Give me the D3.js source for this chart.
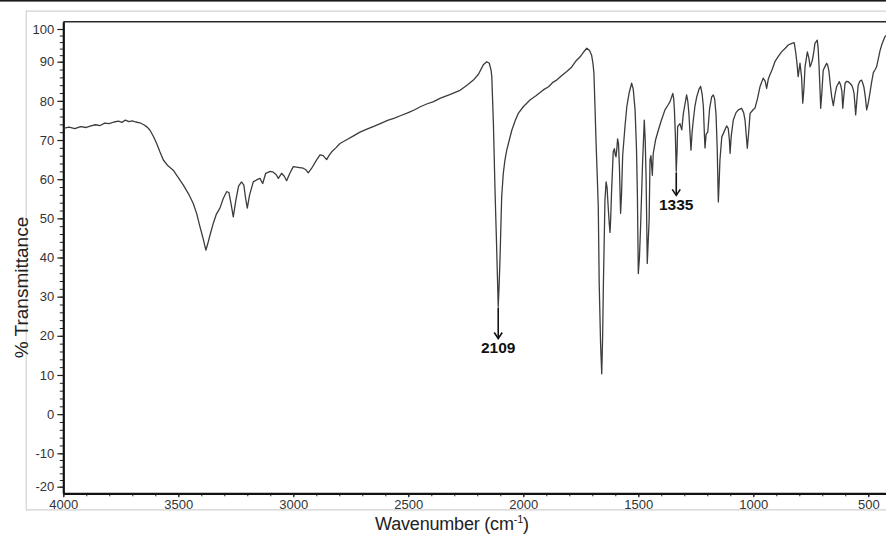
<!DOCTYPE html>
<html>
<head>
<meta charset="utf-8">
<script src="https://cdn.jsdelivr.net/npm/d3@7"></script>
<style>
  html, body { margin: 0; padding: 0; background: #fff; }
  svg { display: block; }
  text { font-family: Arial, "Liberation Sans", sans-serif; }
</style>
</head>
<body>
<svg id="chart" width="886" height="534"></svg>
<script>
// FTIR spectrum: wavenumber (cm-1) and % transmittance
const wavenumber = [
  4000, 3975, 3950, 3925, 3900, 3880, 3860, 3840, 3820, 3800, 3780, 3760, 3745, 3730, 3715, 3700,
  3685, 3667, 3650, 3635, 3623, 3608, 3594, 3580, 3565, 3545, 3522, 3500, 3478, 3455, 3435, 3420,
  3406, 3392, 3380, 3372, 3360, 3348, 3335, 3319, 3305, 3290, 3280, 3270, 3261, 3250, 3238, 3225,
  3215, 3207, 3200, 3190, 3174, 3160, 3145, 3133, 3120, 3100, 3087, 3075, 3065, 3051, 3040, 3029,
  3015, 3000, 2980, 2957, 2945, 2935, 2920, 2900, 2884, 2870, 2855, 2845, 2833, 2815, 2797, 2770,
  2740, 2710, 2680, 2650, 2622, 2590, 2560, 2535, 2500, 2470, 2448, 2420, 2390, 2360, 2320, 2275,
  2245, 2217, 2195, 2174, 2159, 2148, 2140, 2137, 2130, 2123, 2116, 2112, 2109, 2105, 2101, 2094,
  2087, 2080, 2072, 2060, 2050, 2035, 2022, 2000, 1971, 1945, 1913, 1890, 1870, 1855, 1830, 1811,
  1790, 1770, 1753, 1735, 1724, 1712, 1703, 1697, 1693, 1688, 1684, 1678, 1674, 1670, 1664, 1659,
  1655, 1652, 1648, 1645, 1640, 1636, 1630, 1626, 1623, 1620, 1616, 1609, 1604, 1600, 1597, 1593,
  1590, 1586, 1582, 1577, 1573, 1568, 1558, 1550, 1540, 1529, 1522, 1514, 1508, 1504, 1500, 1495,
  1490, 1481, 1476, 1474, 1470, 1466, 1461, 1457, 1453, 1449, 1445, 1439, 1435, 1425, 1413, 1400,
  1384, 1370, 1362, 1350, 1346, 1343, 1339, 1335, 1331, 1329, 1319, 1311, 1304, 1296, 1290, 1285,
  1280, 1271, 1266, 1261, 1254, 1246, 1236, 1229, 1222, 1217, 1213, 1210, 1205, 1198, 1190, 1181,
  1174, 1168, 1162, 1157, 1152, 1148, 1145, 1137, 1130, 1116, 1109, 1104, 1101, 1096, 1087, 1075,
  1065, 1051, 1042, 1036, 1031, 1026, 1020, 1014, 1000, 993, 982, 971, 957, 948, 942, 935,
  928, 918, 906, 890, 877, 860, 848, 835, 822, 815, 810, 805, 797, 790, 785, 780,
  775, 765, 758, 753, 748, 743, 737, 732, 722, 718, 714, 710, 707, 702, 696, 688,
  681, 676, 671, 665, 659, 652, 645, 638, 626, 620, 615, 611, 606, 601, 594, 587,
  580, 572, 566, 562, 558, 555, 550, 544, 537, 529, 524, 519, 513, 507, 500, 493,
  485, 478, 470, 464, 456, 449, 440, 428, 415, 405
];
const transmittance = [
  73.0, 73.3, 72.9, 73.4, 73.2, 73.6, 73.9, 73.7, 74.3, 74.2, 74.6, 74.8, 74.5, 75.1, 74.7, 74.9,
  74.6, 74.4, 73.9, 73.3, 72.5, 70.9, 69.1, 67.0, 64.9, 63.4, 62.3, 60.4, 58.5, 56.2, 53.8, 51.2,
  47.9, 44.8, 41.9, 43.5, 46.2, 48.7, 51.0, 52.6, 55.0, 56.8, 56.6, 53.5, 50.4, 54.5, 58.2, 59.3,
  58.5, 55.0, 52.6, 56.0, 59.3, 59.8, 60.2, 58.9, 61.5, 62.0, 61.8, 61.2, 60.2, 61.5, 60.8, 59.6,
  61.5, 63.2, 63.0, 62.8, 62.4, 61.6, 62.8, 64.8, 66.2, 66.0, 65.0, 66.0, 67.0, 68.0, 69.1, 70.0,
  71.0, 72.0, 72.8, 73.5, 74.2, 75.0, 75.6, 76.2, 77.0, 77.8, 78.5, 79.2, 79.8, 80.7, 81.6, 82.7,
  84.0, 85.3, 86.8, 89.2, 90.0, 89.6, 87.8, 86.2, 74.2, 57.2, 42.8, 34.0, 27.5, 33.0, 40.2, 55.5,
  61.5, 64.8, 67.4, 70.2, 72.5, 75.0, 76.8, 78.5, 80.2, 81.3, 82.8, 83.6, 84.8, 85.3, 86.6, 87.5,
  88.6, 90.3, 91.5, 93.2, 94.1, 93.4, 92.0, 89.5, 87.1, 78.0, 70.0, 60.0, 52.9, 33.4, 18.0, 10.3,
  20.0, 32.5, 45.0, 54.6, 59.3, 58.0, 52.0, 48.5, 46.4, 50.0, 57.2, 67.0, 67.8, 66.2, 65.7, 68.0,
  70.3, 69.0, 63.0, 51.3, 56.0, 66.0, 73.4, 78.5, 82.0, 84.5, 83.0, 77.7, 68.0, 56.4, 35.9, 40.0,
  48.0, 64.9, 72.0, 75.1, 70.0, 60.0, 38.5, 44.0, 49.4, 65.0, 66.0, 61.0, 66.6, 70.0, 72.5, 75.0,
  77.7, 79.0, 79.8, 81.9, 80.5, 77.7, 71.5, 62.0, 68.0, 73.4, 74.2, 72.6, 76.8, 79.5, 81.5, 80.0,
  76.8, 67.4, 72.0, 75.0, 78.5, 81.0, 83.0, 83.7, 81.5, 78.5, 72.0, 68.0, 71.5, 72.0, 78.0, 81.0,
  81.5, 80.5, 76.5, 68.0, 54.2, 60.0, 64.9, 70.8, 71.7, 73.6, 73.0, 70.0, 66.6, 71.0, 75.1, 77.0,
  77.7, 78.1, 77.0, 75.1, 71.5, 67.9, 72.0, 76.8, 77.8, 78.1, 80.5, 83.6, 85.8, 85.0, 83.2, 85.5,
  86.6, 88.0, 90.0, 91.8, 93.0, 94.2, 95.1, 95.5, 95.8, 92.5, 89.5, 86.2, 89.6, 86.0, 79.4, 83.0,
  88.7, 93.0, 91.0, 88.7, 89.5, 90.5, 93.0, 95.6, 96.6, 94.0, 88.7, 83.0, 78.1, 82.0, 87.8, 88.8,
  89.6, 89.0, 87.5, 84.0, 81.0, 78.8, 81.5, 83.6, 84.9, 84.0, 82.5, 78.1, 81.5, 84.5, 85.0, 84.9,
  84.5, 84.0, 83.0, 81.9, 79.0, 76.4, 80.0, 84.0, 85.0, 85.3, 84.5, 83.5, 81.0, 77.7, 79.5, 82.0,
  85.0, 87.2, 88.0, 88.7, 91.0, 93.4, 95.5, 97.6, 98.5, 98.8
];

// Axis ticks
const xTickValues = [4000, 3500, 3000, 2500, 2000, 1500, 1000, 500];
const yTickValues = [-20, -10, 0, 10, 20, 30, 40, 50, 60, 70, 80, 90, 100];

// Marked bands (cm-1), with arrow length in px
const bandLabels = [2109, 1335];
const bandArrowLength = [31, 23];

const spectrum = wavenumber.map((w, i) => ({ w, t: transmittance[i] }));

const svg = d3.select("#chart");

// Plot frame geometry
const plotLeft = 63.3, plotTop = 21.7, plotBottom = 493.3;

const x = d3.scaleLinear().domain([4000, 400]).range([plotLeft, plotLeft + 3600 * 0.23]);
// The printed y axis is stretched unevenly at its ends
const y = d3.scaleLinear()
  .domain([-22, -20, -10, 90, 100, 102.2])
  .range([plotBottom, 486.7, 453.3, 61.7, 29, plotTop]);

// top edge rule of the page
svg.append("rect").attr("x", 0).attr("y", 0).attr("width", 886).attr("height", 1.6).attr("fill", "#1a1a1a");

// light outer frame
svg.append("path")
  .attr("d", "M886,11.2H26.2V509.8H886")
  .attr("stroke", "#d2d2d2").attr("stroke-width", 1.2).attr("fill", "none");

// top border of plot
svg.append("line")
  .attr("x1", plotLeft).attr("x2", 886).attr("y1", plotTop).attr("y2", plotTop)
  .attr("stroke", "#2a2a2a").attr("stroke-width", 1.6);

// minor ticks
svg.append("g")
  .attr("transform", `translate(${plotLeft},0)`)
  .call(d3.axisLeft(y).tickValues(d3.range(-20, 101, 2)).tickSize(3.5).tickFormat(""))
  .call(g => g.select(".domain").remove())
  .call(g => g.selectAll("line").attr("stroke", "#222").attr("stroke-width", 1));

svg.append("g")
  .attr("transform", `translate(0,${plotBottom})`)
  .call(d3.axisBottom(x).tickValues(d3.range(4000, 399, -100)).tickSize(3).tickFormat(""))
  .call(g => g.select(".domain").remove())
  .call(g => g.selectAll("line").attr("stroke", "#222").attr("stroke-width", 1));

// major axes
const yAxis = svg.append("g")
  .attr("transform", `translate(${plotLeft},0)`)
  .call(d3.axisLeft(y).tickValues(yTickValues).tickSize(6).tickSizeOuter(0).tickPadding(3).tickFormat(d => String(d)));
yAxis.select(".domain").attr("stroke", "#111").attr("stroke-width", 2.2);
yAxis.selectAll("line").attr("stroke", "#222").attr("stroke-width", 1.2);
yAxis.selectAll("text").attr("font-size", 13).attr("fill", "#333").attr("font-family", "Arial, 'Liberation Sans', sans-serif");

const xAxis = svg.append("g")
  .attr("transform", `translate(0,${plotBottom})`)
  .call(d3.axisBottom(x).tickValues(xTickValues).tickSize(4).tickSizeOuter(0).tickPadding(2).tickFormat(d => String(d)));
xAxis.select(".domain").attr("stroke", "#111").attr("stroke-width", 2.2);
xAxis.selectAll("line").attr("stroke", "#222").attr("stroke-width", 1.2);
xAxis.selectAll("text").attr("font-size", 13).attr("fill", "#333").attr("font-family", "Arial, 'Liberation Sans', sans-serif");

// axis titles
svg.append("text")
  .attr("transform", "translate(27.5,287.5) rotate(-90)")
  .attr("text-anchor", "middle")
  .attr("font-size", 19)
  .attr("fill", "#222")
  .text("% Transmittance");

const xt = svg.append("text")
  .attr("x", 452).attr("y", 530)
  .attr("text-anchor", "middle")
  .attr("font-size", 18)
  .attr("letter-spacing", -0.2)
  .attr("fill", "#222");
xt.append("tspan").text("Wavenumber (cm");
xt.append("tspan").attr("font-size", 11).attr("dy", -7).text("-1");
xt.append("tspan").attr("dy", 7).text(")");

// spectrum trace
svg.append("defs").append("clipPath").attr("id", "plotclip")
  .append("rect").attr("x", plotLeft).attr("y", plotTop).attr("width", 886 - plotLeft).attr("height", plotBottom - plotTop);

svg.append("path")
  .datum(spectrum)
  .attr("clip-path", "url(#plotclip)")
  .attr("fill", "none")
  .attr("stroke", "#3c3c3c")
  .attr("stroke-width", 1.3)
  .attr("stroke-linejoin", "round")
  .attr("d", d3.line().x(d => x(d.w)).y(d => y(d.t)));

// band markers
bandLabels.forEach((band, i) => {
  const near = spectrum.reduce((a, b) => Math.abs(b.w - band) < Math.abs(a.w - band) ? b : a);
  const bx = x(band);
  const y0 = y(near.t) + 1;
  const y1 = y0 + bandArrowLength[i];
  const g = svg.append("g").attr("stroke", "#111").attr("stroke-width", 1.6).attr("fill", "none");
  g.append("line").attr("x1", bx).attr("x2", bx).attr("y1", y0).attr("y2", y1);
  g.append("path").attr("d", `M${bx - 4},${y1 - 6}L${bx},${y1}L${bx + 4},${y1 - 6}`);
  svg.append("text")
    .attr("x", bx).attr("y", y1 + 15)
    .attr("text-anchor", "middle")
    .attr("font-size", 15.5)
    .attr("font-weight", "bold")
    .attr("fill", "#111")
    .text(band);
});
</script>
</body>
</html>
